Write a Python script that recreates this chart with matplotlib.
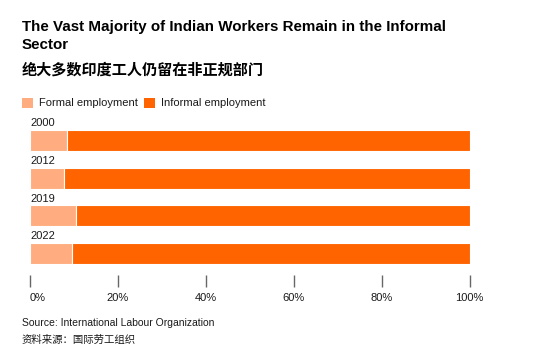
import matplotlib.pyplot as plt
from matplotlib.patches import Patch

plt.rcParams['font.family'] = ['Liberation Sans', 'Noto Sans CJK SC', 'DejaVu Sans']

# data (share of employment, %)
years = ['2000', '2012', '2019', '2022']
formal = [8.5, 7.8, 10.5, 9.6]
informal = [100 - v for v in formal]
xticks = [0, 20, 40, 60, 80, 100]
xticklabels = ['0%', '20%', '40%', '60%', '80%', '100%']

c_formal = '#ffad80'
c_informal = '#ff6400'
txt = '#1a1a1a'

W, H = 538, 352
fig = plt.figure(figsize=(W / 100, H / 100), dpi=100)

# axes placed in pixel terms
left, right, top, bottom = 30, 469.7, 115, 287
ax = fig.add_axes([left / W, 1 - bottom / H, (right - left) / W, (bottom - top) / H])

ypos = list(range(len(years)))
bh = 0.56
ax.barh(ypos, formal, height=bh, color=c_formal, edgecolor='white', linewidth=0.8)
ax.barh(ypos, informal, left=formal, height=bh, color=c_informal, edgecolor='white', linewidth=0.8)

for y, lab in zip(ypos, years):
    ax.text(0, y - bh / 2 - 0.04, lab, fontsize=8, color=txt, ha='left', va='bottom')

ax.set_xlim(0, 100)
ax.set_ylim((bottom - 140.5) / 37.5, (top - 140.5) / 37.5)
for s in ax.spines.values():
    s.set_visible(False)
ax.set_yticks([])
ax.set_xticks(xticks)
ax.set_xticklabels(xticklabels)
ax.tick_params(axis='x', direction='in', length=8.5, width=1, color='#666666',
               labelsize=8, labelcolor=txt, pad=4)
ax.get_xticklabels()[0].set_horizontalalignment('left')

# titles
fig.text(22 / W, 1 - 36 / H, 'The Vast Majority of Indian Workers Remain in the Informal\nSector',
         fontsize=10.9, fontweight='bold', color='black', va='center', ha='left', linespacing=1.32)
fig.text(22 / W, 1 - 70 / H, '绝大多数印度工人仍留在非正规部门', fontsize=10.9,
         fontweight='bold', color='black', va='center', ha='left')

# legend
handles = [Patch(facecolor=c_formal, label='Formal employment'),
           Patch(facecolor=c_informal, label='Informal employment')]
fig.legend(handles=handles, loc='center left', bbox_to_anchor=(12 / W, 1 - 103 / H), ncol=2,
           frameon=False, fontsize=8, handlelength=1.0, handleheight=1.0,
           handletextpad=0.5, columnspacing=0.6, labelcolor=txt)

# source
fig.text(22 / W, 1 - 323 / H, 'Source: International Labour Organization', fontsize=7.5,
         color=txt, va='center', ha='left')
fig.text(22 / W, 1 - 340 / H, '资料来源：国际劳工组织', fontsize=7.5,
         color=txt, va='center', ha='left')

fig.savefig('out.png', dpi=100, facecolor='white')
